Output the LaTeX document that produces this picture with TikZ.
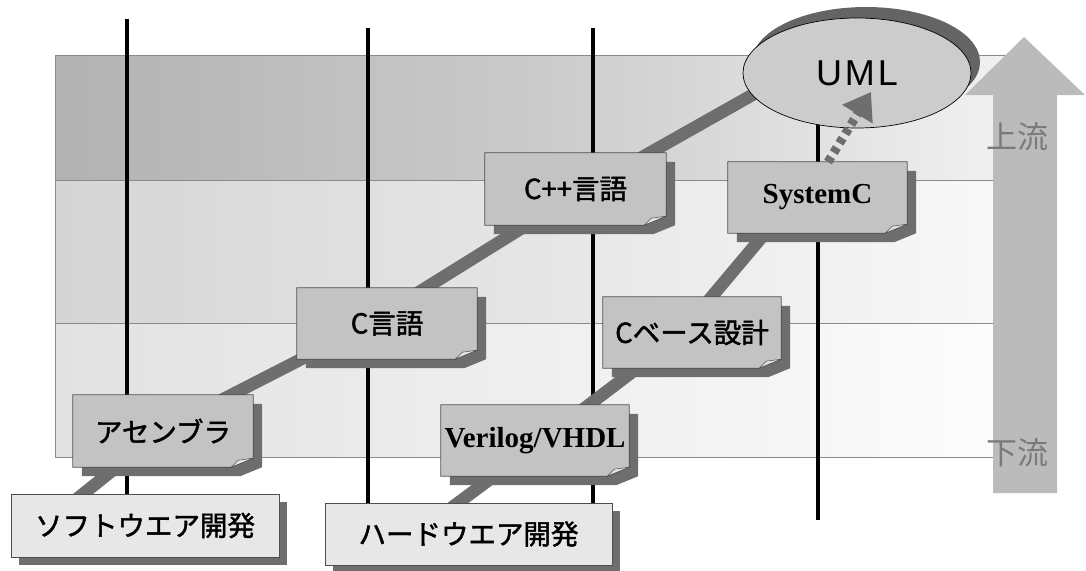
\documentclass[tikz,border=0pt]{standalone}
\usepackage{fontspec}
\setmainfont{Liberation Serif}
\newfontfamily\jp{Noto Sans CJK JP}
\newfontfamily\jpb[FakeBold=1.6]{Noto Sans CJK JP}
\newfontfamily\umlfont[LetterSpace=8]{Liberation Sans}
\usetikzlibrary{calc,arrows.meta,shapes.geometric}
\pgfdeclarelayer{bands}
\pgfdeclarelayer{vlines}
\pgfdeclarelayer{conn}
\pgfdeclarelayer{shad}
\pgfsetlayers{bands,vlines,conn,shad,main}
\definecolor{bandAl}{HTML}{B2B2B2}
\definecolor{bandAm}{HTML}{CBCBCB}
\definecolor{bandAr}{HTML}{F3F3F3}
\definecolor{bandBl}{HTML}{D5D5D5}
\definecolor{bandBm}{HTML}{E6E6E6}
\definecolor{bandBr}{HTML}{FAFAFA}
\definecolor{bandCl}{HTML}{E2E2E2}
\definecolor{bandCm}{HTML}{EFEFEF}
\definecolor{bandCr}{HTML}{FDFDFD}
\definecolor{bandln}{HTML}{8A8A8A}
\definecolor{noteface}{HTML}{C3C3C3}
\definecolor{lightface}{HTML}{E7E7E7}
\definecolor{shadowc}{HTML}{6E6E6E}
\definecolor{connc}{HTML}{6E6E6E}
\definecolor{boxln}{HTML}{4D4D4D}
\definecolor{foldc}{HTML}{E4E4E4}
\definecolor{umlface}{HTML}{CCCCCC}
\definecolor{umlshadow}{HTML}{646464}
\definecolor{flowarrow}{HTML}{BBBBBB}
\definecolor{flowtext}{HTML}{7A7A7A}
\tikzset{
  notebox/.style={fill=noteface, inner sep=0pt},
  plainbox/.style={fill=lightface, draw=boxln, line width=0.8pt, inner sep=0pt},
  boxline/.style={draw=boxln, line width=0.8pt},
  jptext/.style={font=\jpb\fontsize{27.5}{30}\selectfont},
  sertext/.style={font=\bfseries\fontsize{29}{32}\selectfont},
  flowlabel/.style={font=\jp\fontsize{31}{34}\selectfont, text=flowtext, inner sep=0pt},
  thickconn/.style={draw=connc, line width=12.5pt, line join=round},
  vline/.style={draw=black, line width=3.5pt},
  bandline/.style={draw=bandln, line width=1pt},
  umlarrow/.style={draw=shadowc, line width=9pt, dash pattern=on 6pt off 5pt,
    -{Triangle[length=26pt,width=34pt]}}
}
\newcommand\notedeco[1]{%
  \begin{pgfonlayer}{shad}
    \fill[shadowc] ($(#1.north west)+(9,9)$) -- ($(#1.north east)+(9,9)$)
      -- ($(#1.south east)+(9,0)$) -- ($(#1.south east)+(-13,9)$)
      -- ($(#1.south west)+(9,9)$) -- cycle;
  \end{pgfonlayer}
  \fill[shadowc] (#1.south east) -- ($(#1.south east)+(0,-9)$) -- ($(#1.south east)+(-22,0)$) -- cycle;
  \draw[boxline] (#1.north west) -- (#1.north east) -- ($(#1.south east)+(0,-9)$)
    -- ($(#1.south east)+(-22,0)$) -- (#1.south west) -- cycle;
  \filldraw[fill=foldc, draw=boxln, line width=0.5pt] ($(#1.south east)+(-22,0)$)
    -- ($(#1.south east)+(0,-9)$) -- ($(#1.south east)+(-15,-7)$) -- cycle;
}
\newcommand\plaindeco[1]{%
  \begin{pgfonlayer}{shad}
    \fill[shadowc] ($(#1.north west)+(8,8)$) rectangle ($(#1.south east)+(8,8)$);
  \end{pgfonlayer}
}
\begin{document}
\begin{tikzpicture}[x=1pt,y=-1pt]
\useasboundingbox (0,0) rectangle (1086,570);

% bands
\begin{pgfonlayer}{bands}
  \shade[left color=bandAl, right color=bandAr, middle color=bandAm] (55,55) rectangle (1030,180);
  \shade[left color=bandBl, right color=bandBr, middle color=bandBm] (55,180) rectangle (1030,323);
  \shade[left color=bandCl, right color=bandCr, middle color=bandCm] (55,323) rectangle (1030,457);
  \draw[bandline] (55,55) rectangle (1030,457);
  \draw[bandline] (55,180) -- (1030,180);
  \draw[bandline] (55,323) -- (1030,323);
  % up/down flow arrow
  \fill[flowarrow] (993,493) -- (993,95) -- (965,95) -- (1024,37) -- (1085,95)
    -- (1057,95) -- (1057,493) -- cycle;
\end{pgfonlayer}
\node[flowlabel] (up) at (1017,137) {上流};
\node[flowlabel] (down) at (1017,453) {下流};

% boxes
\node[plainbox, jptext, minimum width=268pt, minimum height=63pt] (sw) at (145,525.5) {ソフトウエア開発};
\plaindeco{sw}
\node[plainbox, jptext, minimum width=287pt, minimum height=62pt] (hw) at (468.5,534) {ハードウエア開発};
\plaindeco{hw}

\node[notebox, jptext, minimum width=180pt, minimum height=72pt] (asm) at (163,431) {アセンブラ};
\notedeco{asm}
\node[notebox, jptext, minimum width=180pt, minimum height=71pt] (clang) at (387,323.5) {C言語};
\notedeco{clang}
\node[notebox, jptext, minimum width=181pt, minimum height=72pt] (cpp) at (575.5,189) {C++言語};
\notedeco{cpp}
\node[notebox, sertext, minimum width=179pt, minimum height=71pt] (sysc) at (817.5,197.5) {SystemC};
\notedeco{sysc}
\node[notebox, sertext, minimum width=188pt, minimum height=71pt] (vhdl) at (535,440.5) {Verilog/VHDL};
\notedeco{vhdl}
\node[notebox, jptext, minimum width=178pt, minimum height=71pt] (cbase) at (692,332.5) {Cベース設計};
\notedeco{cbase}

% vertical lines
\coordinate (v1) at (127,19);
\coordinate (v2) at (368,28);
\coordinate (v3) at (593,28);
\coordinate (v4) at (818,28);
\coordinate (v4b) at (818,520);
\begin{pgfonlayer}{vlines}
  \draw[vline] (v1) -- (v1 |- sw.north);
  \draw[vline] (v2) -- (v2 |- hw.north);
  \draw[vline] (v3) -- (v3 |- hw.north);
  \draw[vline] (v4) -- (v4b);
\end{pgfonlayer}

% thick connectors
\coordinate (s0) at (63,510);
\coordinate (s1) at (163,430);
\coordinate (s2) at (358,330);
\coordinate (s3) at (575,195);
\coordinate (s4) at (770,85);
\coordinate (h0) at (435,520);
\coordinate (h1) at (540,442);
\coordinate (h2) at (677,338);
\coordinate (h3) at (793,200);
\begin{pgfonlayer}{conn}
  \draw[thickconn] (s0) -- (s1) -- (s2) -- (s3) -- (s4);
  \draw[thickconn] (h0) -- (h1) -- (h2) -- (h3);
\end{pgfonlayer}

% UML ellipse
\fill[umlshadow] (866,62) ellipse [x radius=114, y radius=55];
\node[ellipse, fill=umlface, draw=black, line width=0.7pt, minimum width=228pt,
  minimum height=110pt, inner sep=0pt, font=\umlfont\fontsize{36}{40}\selectfont] (uml) at (857,73) {UML};

% dashed arrow to UML
\coordinate (sctail) at (828,162);
\coordinate (umltip) at (871,92);
\draw[umlarrow] (sctail) -- (umltip);
\end{tikzpicture}
\end{document}
